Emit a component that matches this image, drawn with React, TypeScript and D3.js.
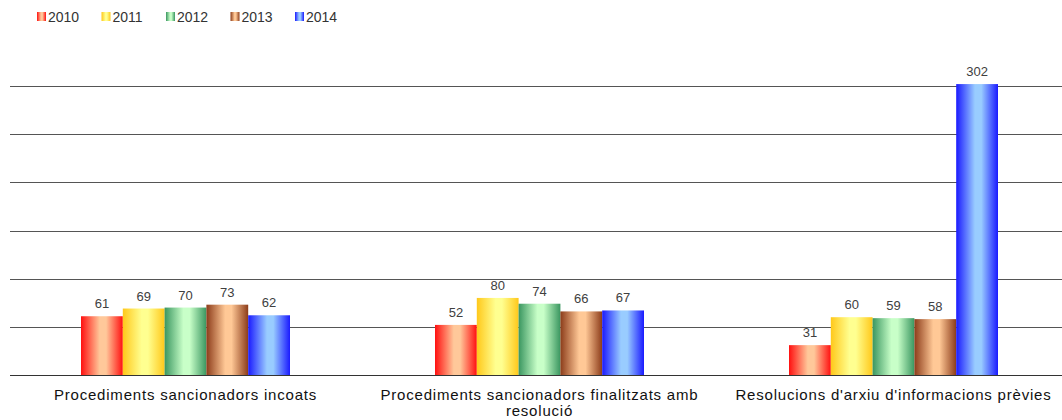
import React from 'react';
import * as d3 from 'd3';

const categories = [
  'Procediments sancionadors incoats',
  'Procediments sancionadors finalitzats amb resolució',
  "Resolucions d'arxiu d'informacions prèvies",
];
const years = ['2010', '2011', '2012', '2013', '2014'];
const values2010 = [61, 52, 31];
const values2011 = [69, 80, 60];
const values2012 = [70, 74, 59];
const values2013 = [73, 66, 58];
const values2014 = [62, 67, 302];
const series = [values2010, values2011, values2012, values2013, values2014];
const yTicks = [0, 50, 100, 150, 200, 250, 300];

// edge colour, centre colour
const palette = [
  ['#ff1010', '#ffc89a'],
  ['#ffc81a', '#ffff90'],
  ['#3a9660', '#c8ffc8'],
  ['#8c3c1a', '#ffc896'],
  ['#1a1aff', '#99ccff'],
];

const W = 1062;
const H = 420;

export default function App() {
  const x0 = d3.scaleBand().domain(categories).range([8.5, 1070.5]).padding(0);
  const x1 = d3.scaleBand().domain(years).range([0, 209]);
  const y = d3.scaleLinear().domain([0, 300]).range([375, 86]);
  const bw = x1.bandwidth();

  const wrap = (s: string) => {
    if (s.length > 45) {
      const i = s.lastIndexOf(' ');
      return [s.slice(0, i), s.slice(i + 1)];
    }
    return [s];
  };

  return (
    <svg width={W} height={H} style={{ position: 'absolute', left: 0, top: 0, fontFamily: 'Liberation Sans, Arial, sans-serif' }}>
      <defs>
        {palette.map((p, i) => (
          <linearGradient id={'g' + i} key={i} x1="0" x2="1" y1="0" y2="0">
            <stop offset="0" stopColor={p[0]} />
            <stop offset="0.45" stopColor={p[1]} />
            <stop offset="0.6" stopColor={p[1]} />
            <stop offset="1" stopColor={p[0]} />
          </linearGradient>
        ))}
      </defs>
      <rect width={W} height={H} fill="#fff" />
      {yTicks.map((t) => (
        <line key={t} x1={10} x2={W} y1={Math.round(y(t)) + 0.5} y2={Math.round(y(t)) + 0.5}
          stroke={t === 0 ? '#333' : '#555'} strokeWidth={1} />
      ))}
      {categories.map((c, ci) => {
        const gx = (x0(c) as number) + (x0.bandwidth() - 209) / 2;
        return (
          <g key={c} transform={`translate(${gx},0)`}>
            {years.map((yr, si) => {
              const v = series[si][ci];
              const bx = x1(yr) as number;
              return (
                <g key={yr}>
                  <rect x={bx} y={y(v)} width={bw} height={375 - y(v)} fill={`url(#g${si})`} />
                  <text x={bx + bw / 2} y={y(v) - 8} textAnchor="middle" fontSize={13} fill="#404040">{v}</text>
                </g>
              );
            })}
          </g>
        );
      })}
      {categories.map((c) => {
        const cx = (x0(c) as number) + x0.bandwidth() / 2;
        return (
          <text key={c} x={cx} y={400} textAnchor="middle" fontSize={15} letterSpacing={0.8} fill="#111">
            {wrap(c).map((l, i) => (
              <tspan key={i} x={cx} dy={i === 0 ? 0 : 16}>{l}</tspan>
            ))}
          </text>
        );
      })}
      {years.map((yr, i) => {
        const lx = 37 + i * 64.5;
        return (
          <g key={yr} transform={`translate(${lx},12)`}>
            <rect x={0} y={0} width={9} height={9} fill={`url(#g${i})`} />
            <text x={11} y={9.5} fontSize={14} fill="#333">{yr}</text>
          </g>
        );
      })}
    </svg>
  );
}
